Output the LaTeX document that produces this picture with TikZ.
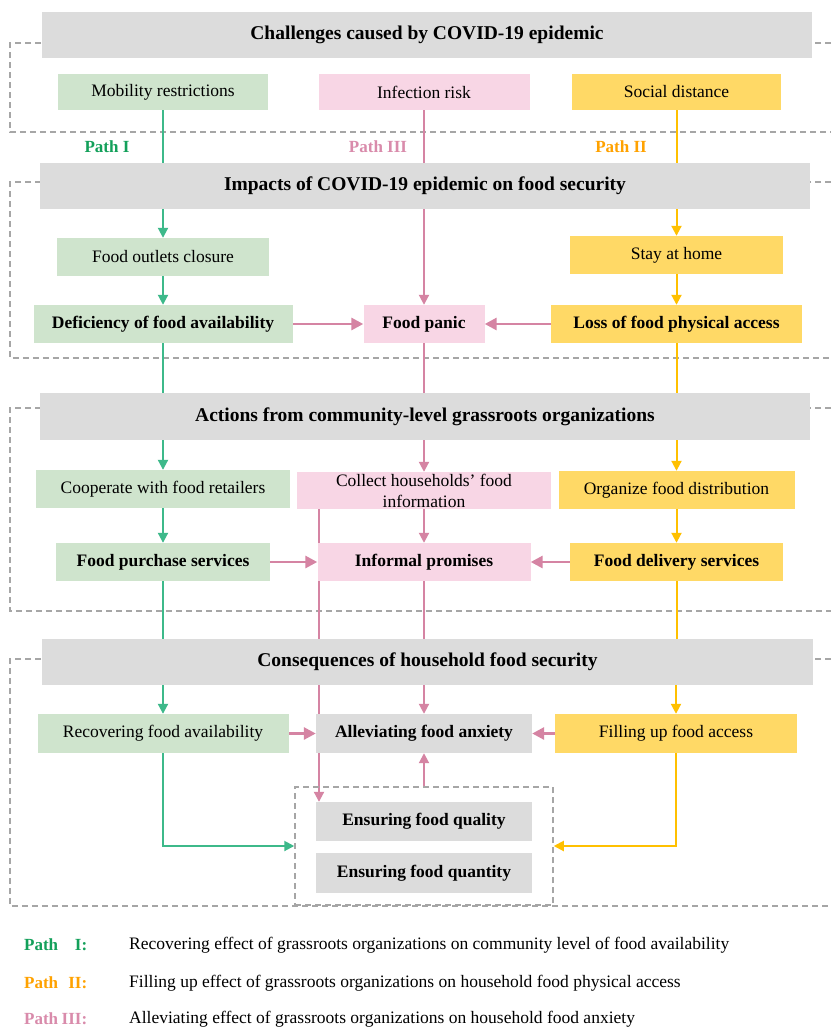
\documentclass[tikz,border=0pt]{standalone}
\usepackage{fontspec}
\setmainfont{Liberation Serif}
\usetikzlibrary{arrows.meta,backgrounds}
\definecolor{pathGreen}{HTML}{3DB98A}
\definecolor{pathPink}{HTML}{D584A3}
\definecolor{pathYellow}{HTML}{FFC000}
\definecolor{boxGreen}{HTML}{CFE4CD}
\definecolor{boxPink}{HTML}{F8D6E5}
\definecolor{boxYellow}{HTML}{FFD966}
\definecolor{boxGray}{HTML}{DCDCDC}
\definecolor{frameGray}{HTML}{A6A6A6}
\definecolor{lblGreen}{HTML}{13A05A}
\definecolor{lblPink}{HTML}{D98BAB}
\definecolor{lblOrange}{HTML}{FFA200}
\tikzset{
  base/.style={inner sep=0pt, align=center, font=\fontsize{17.5}{20}\selectfont,
               minimum height=38pt},
  stage/.style={base, fill=boxGray, minimum width=770pt, minimum height=46pt,
                font=\fontsize{19.5}{22}\selectfont\bfseries},
  gbox/.style={base, fill=boxGreen},
  pbox/.style={base, fill=boxPink},
  ybox/.style={base, fill=boxYellow},
  cbox/.style={base, fill=boxGray},
  bt/.style={font=\fontsize{17.5}{20}\selectfont\bfseries},
  dframe/.style={draw=frameGray, line width=1.5pt, dash pattern=on 6pt off 4pt},
  gl/.style={draw=pathGreen, line width=2pt},
  pl/.style={draw=pathPink, line width=2pt},
  yl/.style={draw=pathYellow, line width=2pt},
  arr/.style={-{Triangle[length=10pt,width=10pt]}},
  side/.style={line width=2.8pt, -{Triangle[length=12pt,width=12pt]}},
  pathlbl/.style={inner sep=0pt, font=\fontsize{17}{20}\selectfont\bfseries},
  legtxt/.style={anchor=west, inner sep=0pt, font=\fontsize{17.5}{20}\selectfont},
  legkey/.style={legtxt, font=\fontsize{17}{20}\selectfont\bfseries},
}

\begin{document}
\begin{tikzpicture}[x=1pt,y=-1pt]
  \useasboundingbox (0,0) rectangle (831,1028);

  \node[stage] (chal) at (427,34.5) {Challenges caused by COVID-19 epidemic};
  \node[gbox, minimum width=210pt, minimum height=36pt] (mob) at (163,92) {Mobility restrictions};
  \node[pbox, minimum width=211pt, minimum height=36pt] (inf) at (424,92) {Infection risk};
  \node[ybox, minimum width=209pt, minimum height=36pt] (soc) at (676.5,92) {Social distance};

  \node[pathlbl, text=lblGreen] (p1) at (107,147) {Path I};
  \node[pathlbl, text=lblPink] (p3) at (378,147) {Path III};
  \node[pathlbl, text=lblOrange] (p2) at (621,147) {Path II};

  \node[stage] (imp) at (425,186) {Impacts of COVID-19 epidemic on food security};
  \node[gbox, minimum width=212pt] (clo) at (163,257) {Food outlets closure};
  \node[ybox, minimum width=213pt] (stay) at (676.5,255) {Stay at home};
  \node[gbox, bt, minimum width=259pt] (def) at (163,324) {Deficiency of food availability};
  \node[pbox, bt, minimum width=121pt] (pan) at (424,324) {Food panic};
  \node[ybox, bt, minimum width=251pt] (loss) at (676.5,324) {Loss of food physical access};

  \node[stage, minimum height=47pt] (act) at (425,416.5) {Actions from community-level grassroots organizations};
  \node[gbox, minimum width=254pt] (coo) at (163,489) {Cooperate with food retailers};
  \node[pbox, minimum width=254pt, minimum height=37pt, font=\fontsize{17.5}{21}\selectfont] (col) at (424,490.5)
    {Collect households’ food\\information};
  \node[ybox, minimum width=236pt] (org) at (676.5,490) {Organize food distribution};
  \node[gbox, bt, minimum width=214pt] (pur) at (163,562) {Food purchase services};
  \node[pbox, bt, minimum width=213pt] (pro) at (424,562) {Informal promises};
  \node[ybox, bt, minimum width=213pt] (del) at (676.5,562) {Food delivery services};

  \node[stage, minimum width=771pt] (con) at (427.5,662) {Consequences of household food security};
  \node[gbox, minimum width=251pt, minimum height=39pt] (rec) at (163,733.5) {Recovering food availability};
  \node[cbox, bt, minimum width=216pt, minimum height=39pt] (anx) at (424,733.5) {Alleviating food anxiety};
  \node[ybox, minimum width=242pt, minimum height=39pt] (fil) at (676,733.5) {Filling up food access};

  \node[dframe, minimum width=258pt, minimum height=118pt] (ens) at (424,846) {};
  \node[cbox, bt, minimum width=216pt, minimum height=39pt] (qua) at (424,821.5) {Ensuring food quality};
  \node[cbox, bt, minimum width=216pt, minimum height=40pt] (qty) at (424,873) {Ensuring food quantity};
  \coordinate (sideP) at (319,0);

  \node[legkey, text=lblGreen] (k1) at (24,945) {\makebox[63pt]{Path\hfill I:}};
  \node[legtxt] (d1) at (129,945) {Recovering effect of grassroots organizations on community level of food availability};
  \node[legkey, text=lblOrange] (k2) at (24,983) {\makebox[63pt]{Path\hfill II:}};
  \node[legtxt] (d2) at (129,983) {Filling up effect of grassroots organizations on household food physical access};
  \node[legkey, text=lblPink] (k3) at (24,1019) {\makebox[63pt]{Path\hfill III:}};
  \node[legtxt] (d3) at (129,1019) {Alleviating effect of grassroots organizations on household food anxiety};

  \begin{scope}[on background layer]
    \fill[white] (0,0) rectangle (831,1028);
    \draw[dframe] (831,43) -| (10,132) -- (831,132);
    \draw[dframe] (831,182) -| (10,358) -- (831,358);
    \draw[dframe] (831,408) -| (10,611) -- (831,611);
    \draw[dframe] (831,659) -| (10,906) -- (831,906);

    \draw[gl] (mob.south) -- (mob.south |- imp.north);
    \draw[gl, arr] (imp.south -| clo) -- (clo.north);
    \draw[gl, arr] (clo) -- (def);
    \draw[gl] (def.south) -- (def.south |- act.north);
    \draw[gl, arr] (act.south -| coo) -- (coo.north);
    \draw[gl, arr] (coo) -- (pur);
    \draw[gl] (pur.south) -- (pur.south |- con.north);
    \draw[gl, arr] (con.south -| rec) -- (rec.north);
    \draw[gl, arr] (rec.south) |- (ens.west);

    \draw[pl] (inf.south) -- (inf.south |- imp.north);
    \draw[pl, arr] (imp.south -| pan) -- (pan.north);
    \draw[pl] (pan.south) -- (pan.south |- act.north);
    \draw[pl, arr] (act.south -| col) -- (col.north);
    \draw[pl, arr] (col) -- (pro);
    \draw[pl] (pro.south) -- (pro.south |- con.north);
    \draw[pl, arr] (con.south -| anx) -- (anx.north);
    \draw[pl, arr] (col.south -| sideP) -- (qua.north -| sideP);
    \draw[pl, arr] (ens) -- (anx);

    \draw[yl] (soc.south) -- (soc.south |- imp.north);
    \draw[yl, arr] (imp.south -| stay) -- (stay.north);
    \draw[yl, arr] (stay) -- (loss);
    \draw[yl] (loss.south) -- (loss.south |- act.north);
    \draw[yl, arr] (act.south -| org) -- (org.north);
    \draw[yl, arr] (org) -- (del);
    \draw[yl] (del.south) -- (del.south |- con.north);
    \draw[yl, arr] (con.south -| fil) -- (fil.north);
    \draw[yl, arr] (fil.south) |- (ens.east);

    \draw[pl, side] (def) -- (pan);
    \draw[pl, side] (loss) -- (pan);
    \draw[pl, side] (pur) -- (pro);
    \draw[pl, side] (del) -- (pro);
    \draw[pl, side] (rec) -- (anx);
    \draw[pl, side] (fil) -- (anx);
  \end{scope}
\end{tikzpicture}
\end{document}
